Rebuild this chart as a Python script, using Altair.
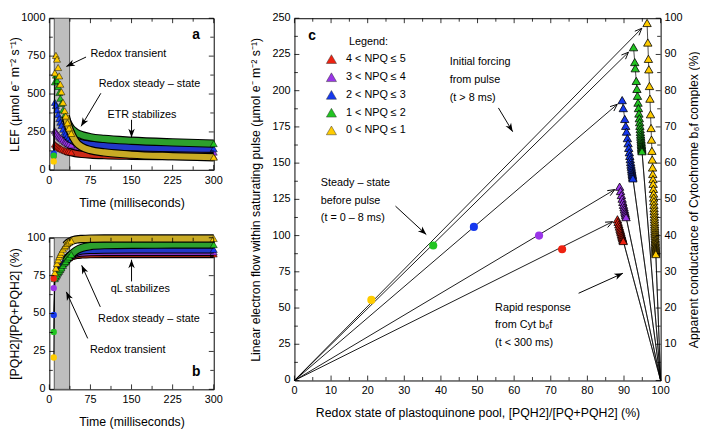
import math
import altair as alt
import pandas as pd

FONT = "Liberation Sans, Arial, sans-serif"

# ---------------- data ----------------
NPQ_CLASSES = ["4 < NPQ ≤ 5", "3 < NPQ ≤ 4", "2 < NPQ ≤ 3", "1 < NPQ ≤ 2", "0 < NPQ ≤ 1"]
POINT_COLORS = ["#EE2211", "#9A35E8", "#1538EE", "#22C422", "#FFCC00"]
BAND_COLORS = ["#CC2A18", "#8035C4", "#2238C8", "#2DA02D", "#C8AA25"]

TIME_MS = [10, 12, 14, 16, 18, 20, 22, 25, 28, 30, 33, 36, 40, 45, 50, 60, 75, 100, 150, 225, 300]

LEF_RED = [170, 162, 156, 151, 146, 142, 138, 133, 129, 126, 122, 119, 116, 112, 109, 105, 101, 97, 93, 90, 88]
LEF_PURPLE = [258, 248, 238, 228, 219, 211, 204, 195, 187, 182, 176, 170, 164, 158, 153, 146, 139, 132, 125, 120, 117]
LEF_BLUE = [445, 425, 395, 365, 338, 314, 293, 268, 248, 237, 223, 212, 201, 191, 184, 174, 166, 158, 150, 143, 139]
LEF_GREEN = [580, 625, 590, 550, 510, 472, 438, 395, 360, 340, 315, 295, 272, 256, 243, 228, 215, 204, 192, 181, 173]
LEF_YELLOW = [640, 755, 730, 675, 620, 565, 515, 445, 390, 355, 310, 275, 240, 205, 178, 150, 130, 115, 100, 90, 83]

PQ_RED = [75.5, 76.8, 78.0, 79.2, 80.3, 81.3, 82.2, 83.5, 84.6, 85.3, 86.2, 86.9, 87.7, 88.3, 88.7, 89.0, 89.2, 89.3, 89.3, 89.3, 89.3]
PQ_PURPLE = [75.0, 76.3, 77.6, 78.8, 79.9, 81.0, 82.0, 83.4, 84.7, 85.4, 86.5, 87.4, 88.3, 89.2, 89.7, 90.2, 90.5, 90.6, 90.6, 90.6, 90.6]
PQ_BLUE = [74.0, 75.3, 76.6, 77.9, 79.1, 80.2, 81.3, 82.9, 84.3, 85.2, 86.5, 87.6, 88.8, 89.9, 90.7, 91.6, 92.0, 92.2, 92.3, 92.3, 92.3]
PQ_GREEN = [73.0, 74.2, 75.4, 76.8, 77.9, 79.0, 80.1, 81.8, 83.4, 84.4, 86.0, 87.3, 88.9, 90.5, 91.8, 93.4, 94.5, 95.1, 95.4, 95.5, 95.5]
PQ_YELLOW = [77.0, 80.0, 83.0, 85.5, 87.5, 89.0, 90.5, 92.5, 94.0, 95.0, 96.2, 97.1, 97.9, 98.5, 98.9, 99.2, 99.4, 99.5, 99.5, 99.5, 99.5]

SS_TIME = 8
SS_LEF = [90.6, 100.0, 106.0, 93.2, 55.6]
SS_REDOX = [73.1, 66.8, 49.0, 37.9, 21.0]

# panel c: pulse points (redox %, conductance %)
RED_X = [88.21, 88.39, 88.58, 88.74, 88.90, 89.03, 89.16, 89.29, 89.40, 89.51, 89.61, 89.72, 89.80]
RED_COND = [44.5, 43.8, 43.1, 42.5, 41.9, 41.4, 40.9, 40.4, 40.0, 39.6, 39.2, 38.8, 38.5]
PUR_X = [88.80, 89.05, 89.28, 89.49, 89.68, 89.85, 90.00, 90.12, 90.25, 90.35, 90.46, 90.56]
PUR_COND = [53.5, 52.3, 51.2, 50.2, 49.3, 48.5, 47.8, 47.2, 46.6, 46.1, 45.6, 45.1]
BLU_X = [89.50, 89.80, 90.20, 90.46, 90.68, 90.92, 91.11, 91.29, 91.45, 91.59, 91.71, 91.82, 91.91,
         91.99, 92.08, 92.14, 92.21, 92.26, 92.32, 92.37, 92.43]
BLU_COND = [77.4, 75.2, 72.2, 70.3, 68.7, 66.9, 65.5, 64.2, 63.0, 62.0, 61.1, 60.3, 59.6, 59.0, 58.4,
            57.9, 57.4, 57.0, 56.6, 56.2, 55.8]
GRN_X = [92.60, 92.93, 93.07, 93.35, 93.53, 93.68, 93.83, 93.95, 94.07, 94.18, 94.27, 94.35, 94.42,
         94.48, 94.54, 94.59, 94.64, 94.68, 94.72, 94.75, 94.78, 94.81, 94.84, 94.86, 94.89, 94.91]
GRN_COND = [92.0, 87.9, 86.2, 82.7, 80.5, 78.6, 76.7, 75.2, 73.7, 72.4, 71.3, 70.3, 69.4, 68.6, 67.9,
            67.3, 66.7, 66.2, 65.7, 65.3, 64.9, 64.5, 64.2, 63.9, 63.6, 63.3]
YEL_X = [96.30, 96.50, 96.67, 96.78, 96.95, 97.08, 97.24, 97.39, 97.51, 97.62, 97.71, 97.80, 97.86,
         97.92, 97.96, 98.02, 98.07, 98.11, 98.14, 98.18, 98.22, 98.25, 98.28, 98.31, 98.33, 98.36,
         98.38, 98.41, 98.43, 98.45, 98.47, 98.49, 98.51, 98.53, 98.54, 98.56, 98.57, 98.59, 98.60,
         98.61, 98.62, 98.64, 98.65, 98.66, 98.67, 98.68, 98.69]
YEL_COND = [98.7, 93.3, 88.8, 85.9, 81.3, 77.8, 73.5, 69.7, 66.5, 63.4, 61.0, 58.8, 57.0, 55.6, 54.3,
            52.9, 51.6, 50.5, 49.5, 48.5, 47.6, 46.8, 46.0, 45.2, 44.5, 43.8, 43.1, 42.5, 41.9, 41.3,
            40.8, 40.3, 39.8, 39.3, 38.9, 38.5, 38.1, 37.7, 37.4, 37.0, 36.7, 36.4, 36.1, 35.8, 35.5,
            35.2, 34.9]

LEF_SERIES = [LEF_RED, LEF_PURPLE, LEF_BLUE, LEF_GREEN, LEF_YELLOW]
PQ_SERIES = [PQ_RED, PQ_PURPLE, PQ_BLUE, PQ_GREEN, PQ_YELLOW]
C_X = [RED_X, PUR_X, BLU_X, GRN_X, YEL_X]
C_COND = [RED_COND, PUR_COND, BLU_COND, GRN_COND, YEL_COND]

# tick label values
TIME_LABELS = [0, 75, 150, 225, 300]
LEF_LABELS = [0, 250, 500, 750, 1000]
PQ_LABELS = [0, 25, 50, 75, 100]
C_X_LABELS = list(range(0, 101, 10))
C_YL_LABELS = list(range(0, 251, 25))
C_YR_LABELS = list(range(0, 101, 10))

# ---------------- layout ----------------
AW, AH = 167, 154
CW, CH = 372, 368
NOTE_SIZE = 11
LABEL_SIZE = 11
BARB = "M0,0L-1,-0.38L-0.72,0L-1,0.38Z"
VHEAD = "M-1,-0.42L0,0L-1,0.42"


def qx(field, dom, axis=alt.Undefined):
    return alt.X(f"{field}:Q", scale=alt.Scale(domain=dom, nice=False, zero=False), axis=axis)


def qy(field, dom, axis=alt.Undefined):
    return alt.Y(f"{field}:Q", scale=alt.Scale(domain=dom, nice=False, zero=False), axis=axis)


def ticks(values, side, length, xdom, ydom, W, H):
    base = alt.Chart(pd.DataFrame({"v": values})).mark_rule(color="black", strokeWidth=0.8)
    if side == "bottom":
        return base.encode(x=qx("v", xdom), y=alt.value(H), y2=alt.value(H - length))
    if side == "top":
        return base.encode(x=qx("v", xdom), y=alt.value(0), y2=alt.value(length))
    if side == "left":
        return base.encode(y=qy("v", ydom), x=alt.value(0), x2=alt.value(length))
    return base.encode(y=qy("v", ydom), x=alt.value(W), x2=alt.value(W - length))


def tick_labels(values, side, xdom, ydom, W, H):
    df = pd.DataFrame({"v": values, "s": [str(v) for v in values]})
    if side == "bottom":
        return alt.Chart(df).mark_text(align="center", baseline="top", font=FONT, fontSize=LABEL_SIZE,
                                       color="black").encode(
            x=qx("v", xdom), y=alt.value(H + 5), text="s:N")
    if side == "left":
        return alt.Chart(df).mark_text(align="right", baseline="middle", font=FONT, fontSize=LABEL_SIZE,
                                       color="black").encode(
            y=qy("v", ydom), x=alt.value(-4), text="s:N")
    return alt.Chart(df).mark_text(align="left", baseline="middle", font=FONT, fontSize=LABEL_SIZE,
                                   color="black").encode(
        y=qy("v", ydom), x=alt.value(W + 4), text="s:N")


def arrows(segs, xdom, ydom, W, H, size=300):
    sx = W / (xdom[1] - xdom[0])
    sy = H / (ydom[1] - ydom[0])
    rows, heads = [], []
    for i, (x0, y0, x1, y1) in enumerate(segs):
        rows += [{"id": i, "o": 0, "x": x0, "y": y0}, {"id": i, "o": 1, "x": x1, "y": y1}]
        ang = math.degrees(math.atan2(-(y1 - y0) * sy, (x1 - x0) * sx)) % 360
        heads.append({"x": x1, "y": y1, "a": ang})
    line = alt.Chart(pd.DataFrame(rows)).mark_line(color="black", strokeWidth=1).encode(
        x=qx("x", xdom), y=qy("y", ydom), detail="id:N", order="o:Q")
    head = alt.Chart(pd.DataFrame(heads)).mark_point(
        shape=BARB, filled=True, color="black", size=size, opacity=1).encode(
        x=qx("x", xdom), y=qy("y", ydom), angle=alt.Angle("a:Q", scale=None))
    return [line, head]


def texts(rows, xdom, ydom, size=NOTE_SIZE, weight="normal", align="left"):
    df = pd.DataFrame(rows, columns=["x", "y", "t"])
    return alt.Chart(df).mark_text(align=align, baseline="middle", font=FONT, fontSize=size,
                                   fontWeight=weight, color="black").encode(
        x=qx("x", xdom), y=qy("y", ydom), text="t:N")


def frame_ticks(xdom, ydom, W, H, xmaj, xmin, ymaj, ymin):
    out = []
    for side in ["bottom", "top"]:
        out.append(ticks(xmaj, side, 5, xdom, ydom, W, H))
        out.append(ticks(xmin, side, 3.5, xdom, ydom, W, H))
    for side in ["left", "right"]:
        out.append(ticks(ymaj, side, 5, xdom, ydom, W, H))
        out.append(ticks(ymin, side, 3.5, xdom, ydom, W, H))
    return out


def x_axis(title):
    return alt.Axis(title=title, labels=False, ticks=False, domain=False, grid=False,
                    minExtent=18, maxExtent=18, titlePadding=9)


def y_axis(title, pad, orient="left", extent=24):
    kw = dict(title=title, labels=False, ticks=False, domain=False, grid=False,
              minExtent=extent, maxExtent=extent, titlePadding=pad, orient=orient)
    if orient == "right":
        kw["titleAngle"] = 270
        kw["titleBaseline"] = "top"
    return alt.Axis(**kw)


def time_panel(series, ss_vals, ydom, yvals, ytitle, ymaj, ymin, notes, arrow_segs, letter):
    xdom = [0, 300]
    layers = []
    layers.append(alt.Chart(pd.DataFrame({"x": [9], "x2": [37], "y": [ydom[0]], "y2": [ydom[1]]}))
                  .mark_rect(fill="#BEBEBE", stroke="#555555", strokeWidth=1)
                  .encode(x=qx("x", xdom), x2="x2:Q", y=qy("y", ydom), y2="y2:Q"))
    for i in range(5):
        df = pd.DataFrame({"t": TIME_MS, "v": series[i]})
        band = df[df["t"] >= 30]
        conn = pd.DataFrame({"t": [SS_TIME, TIME_MS[0]], "v": [ss_vals[i], series[i][0]]})
        layers.append(alt.Chart(conn).mark_line(color="black", strokeWidth=0.8)
                      .encode(x=qx("t", xdom), y=qy("v", ydom)))
        layers.append(alt.Chart(band).mark_line(color="black", strokeWidth=8.5, strokeCap="butt",
                                                interpolate="monotone")
                      .encode(x=qx("t", xdom), y=qy("v", ydom)))
        layers.append(alt.Chart(band).mark_line(color=BAND_COLORS[i], strokeWidth=6.2, strokeCap="butt",
                                                interpolate="monotone")
                      .encode(x=qx("t", xdom), y=qy("v", ydom)))
        tri = df[(df["t"] <= 40) | (df["t"] == 300)]
        layers.append(alt.Chart(tri).mark_point(shape="triangle-up", filled=True, fill=POINT_COLORS[i],
                                                stroke="black", strokeWidth=0.5, size=52, opacity=1)
                      .encode(x=qx("t", xdom), y=qy("v", ydom)))
    circ = pd.DataFrame({"t": [SS_TIME] * 5, "v": ss_vals, "c": POINT_COLORS})
    layers.append(alt.Chart(circ).mark_circle(size=42, opacity=1)
                  .encode(x=qx("t", xdom), y=qy("v", ydom), color=alt.Color("c:N", scale=None)))
    layers.append(texts(notes, xdom, ydom))
    layers += arrows(arrow_segs, xdom, ydom, AW, AH)
    layers.append(texts([letter], xdom, ydom, size=14, weight="bold", align="center"))
    layers += frame_ticks(xdom, ydom, AW, AH, [0, 75, 150, 225, 300], [37.5, 112.5, 187.5, 262.5],
                          ymaj, ymin)
    layers.append(tick_labels(TIME_LABELS, "bottom", xdom, ydom, AW, AH))
    layers.append(tick_labels(yvals, "left", xdom, ydom, AW, AH))
    carrier = alt.Chart(pd.DataFrame({"x": xdom, "y": ydom})).mark_point(opacity=0).encode(
        x=qx("x", xdom, x_axis("Time (milliseconds)")),
        y=qy("y", ydom, y_axis(ytitle, 4)))
    layers.append(carrier)
    return alt.layer(*layers).properties(width=AW, height=AH)


panel_a = time_panel(
    LEF_SERIES, SS_LEF, [0, 1000], LEF_LABELS, "LEF (µmol e⁻ m⁻² s⁻¹)",
    [0, 250, 500, 750, 1000], [125, 375, 625, 875],
    [(75, 767, "Redox transient"), (90, 568, "Redox steady – state"), (106, 362, "ETR stabilizes")],
    [(67, 744, 31, 682), (94, 505, 58, 287), (150, 330, 150, 214)],
    (268, 886, "a"))

panel_b = time_panel(
    PQ_SERIES, SS_REDOX, [0, 100], PQ_LABELS, "[PQH2]/[PQ+PQH2] (%)",
    [0, 25, 50, 75, 100], [12.5, 37.5, 62.5, 87.5],
    [(112, 66.2, "qL stabilizes"), (89, 46.7, "Redox steady – state"), (74, 25.9, "Redox transient")],
    [(150, 71.2, 150, 85.5), (93, 54.4, 59, 81.8), (70, 33.6, 31, 64.3)],
    (268, 11.4, "b"))

# ---------------- panel c ----------------
XC = [0, 100]
YL = [0, 250]
YR = [0, 100]
K = YL[1] / YR[1]
sxc = CW / 100.0
syc = CH / 250.0

left = []
ray_rows, vheads, fan_rows = [], [], []
for i in range(5):
    xt, yt = C_X[i][0], C_COND[i][0] * K
    xb, yb = C_X[i][-1], C_COND[i][-1] * K
    f = 0.985
    ray_rows += [{"id": i, "o": 0, "x": 0, "y": 0}, {"id": i, "o": 1, "x": xt * f, "y": yt * f}]
    vheads.append({"x": xt * f, "y": yt * f,
                   "a": math.degrees(math.atan2(-yt * syc, xt * sxc)) % 360})
    fan_rows += [{"id": 2 * i, "o": 0, "x": 100, "y": 0}, {"id": 2 * i, "o": 1, "x": xt, "y": yt},
                 {"id": 2 * i + 1, "o": 0, "x": 100, "y": 0}, {"id": 2 * i + 1, "o": 1, "x": xb, "y": yb}]

left.append(alt.Chart(pd.DataFrame(fan_rows)).mark_line(color="black", strokeWidth=0.7)
            .encode(x=qx("x", XC), y=qy("y", YL), detail="id:N", order="o:Q"))
left.append(alt.Chart(pd.DataFrame(ray_rows)).mark_line(color="black", strokeWidth=0.9)
            .encode(x=qx("x", XC), y=qy("y", YL), detail="id:N", order="o:Q"))
left.append(alt.Chart(pd.DataFrame(vheads)).mark_point(shape=VHEAD, filled=False, color="black",
                                                       strokeWidth=0.9, size=200, opacity=1)
            .encode(x=qx("x", XC), y=qy("y", YL), angle=alt.Angle("a:Q", scale=None)))
left.append(alt.Chart(pd.DataFrame({"x": SS_REDOX, "y": SS_LEF, "c": POINT_COLORS}))
            .mark_circle(size=68, opacity=1)
            .encode(x=qx("x", XC), y=qy("y", YL), color=alt.Color("c:N", scale=None)))
# legend
LEG_Y = [221.8, 209.3, 197.1, 184.8, 172.6]
left.append(alt.Chart(pd.DataFrame({"x": [10.1] * 5, "y": LEG_Y, "c": POINT_COLORS}))
            .mark_point(shape="triangle-up", filled=True, stroke="#333333", strokeWidth=0.5,
                        size=105, opacity=1)
            .encode(x=qx("x", XC), y=qy("y", YL), fill=alt.Fill("c:N", scale=None)))
left.append(texts([(14.1, LEG_Y[k], NPQ_CLASSES[k]) for k in range(5)] + [(14.9, 233.4, "Legend:")],
                  XC, YL))
left.append(texts([(42.4, 219.8, "Initial forcing"), (42.4, 207.3, "from pulse"),
                   (42.4, 195.1, "(t > 8 ms)"),
                   (7.2, 136.3, "Steady – state"), (7.2, 124.0, "before pulse"),
                   (7.2, 112.0, "(t = 0 – 8 ms)"),
                   (54.8, 50.3, "Rapid response"), (54.8, 38.3, "from Cyt b₆f"),
                   (54.8, 25.9, "(t < 300 ms)")], XC, YL))
left += arrows([(55.7, 188.1, 59.6, 171.7), (27.6, 120.3, 36.0, 100.7), (77.6, 60.2, 89.7, 74.0)],
               XC, YL, CW, CH)
left.append(texts([(4.8, 238, "c")], XC, YL, size=14, weight="bold", align="center"))
xmaj = list(range(0, 101, 10))
xmin = list(range(5, 100, 10))
ylmaj = list(range(0, 251, 25))
ylmin = [12.5 + 25 * k for k in range(10)]
for side in ["bottom", "top"]:
    left.append(ticks(xmaj, side, 5, XC, YL, CW, CH))
    left.append(ticks(xmin, side, 3.5, XC, YL, CW, CH))
left.append(ticks(ylmaj, "left", 5, XC, YL, CW, CH))
left.append(ticks(ylmin, "left", 3.5, XC, YL, CW, CH))
left.append(tick_labels(C_X_LABELS, "bottom", XC, YL, CW, CH))
left.append(tick_labels(C_YL_LABELS, "left", XC, YL, CW, CH))
left.append(alt.Chart(pd.DataFrame({"x": XC, "y": YL})).mark_point(opacity=0).encode(
    x=qx("x", XC, x_axis("Redox state of plastoquinone pool, [PQH2]/[PQ+PQH2] (%)")),
    y=qy("y", YL, y_axis("Linear electron flow within saturating pulse (µmol e⁻ m⁻² s⁻¹)", 8))))

right = []
for i in range(5):
    df = pd.DataFrame({"x": C_X[i], "y": C_COND[i]})
    right.append(alt.Chart(df).mark_point(shape="triangle-up", filled=True, fill=POINT_COLORS[i],
                                          stroke="black", strokeWidth=0.8, size=72, opacity=1)
                 .encode(x=qx("x", XC), y=qy("y", YR)))
right.append(ticks(list(range(0, 101, 10)), "right", 5, XC, YR, CW, CH))
right.append(ticks(list(range(5, 100, 10)), "right", 3.5, XC, YR, CW, CH))
right.append(tick_labels(C_YR_LABELS, "right", XC, YR, CW, CH))
right.append(alt.Chart(pd.DataFrame({"x": XC, "y": YR})).mark_point(opacity=0).encode(
    x=qx("x", XC),
    y=qy("y", YR, y_axis("Apparent conductance of Cytochrome b₆f complex (%)", 5, "right", 22))))

panel_c = alt.layer(alt.layer(*left), alt.layer(*right)).resolve_scale(y="independent").properties(
    width=CW, height=CH)

chart = alt.hconcat(alt.vconcat(panel_a, panel_b, spacing=12), panel_c, spacing=18).properties(
    padding={"left": 0, "top": 0, "right": 0, "bottom": 4}
).configure_view(stroke="black", strokeWidth=1).configure_axis(
    labelFont=FONT, titleFont=FONT, labelFontSize=LABEL_SIZE, titleFontSize=12.5,
    titleFontWeight="normal", titleColor="black"
)

chart.save("out.html", embed_options={"renderer": "svg", "actions": False})
